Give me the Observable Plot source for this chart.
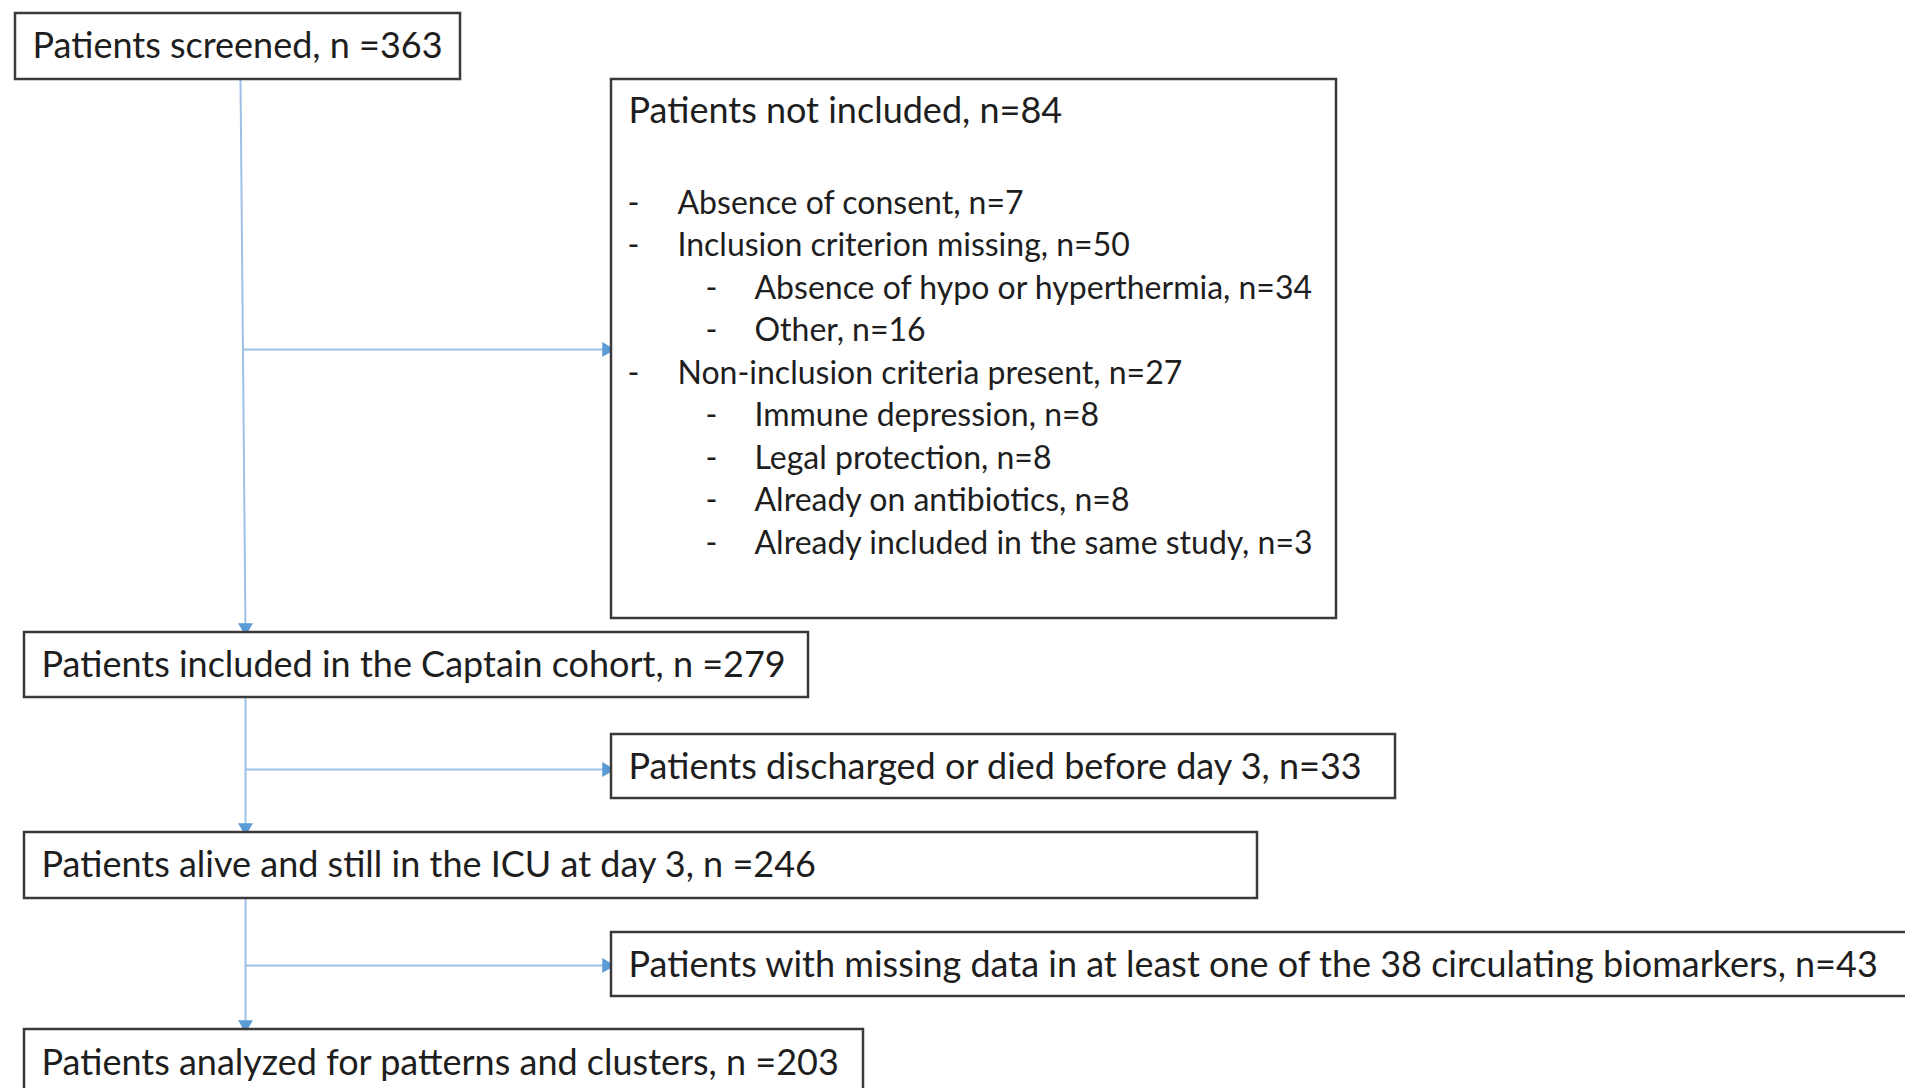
<!DOCTYPE html>
<html>
<head>
<meta charset="utf-8">
<script src="https://cdn.jsdelivr.net/npm/d3@7"></script>
<script src="https://cdn.jsdelivr.net/npm/@observablehq/plot@0.6"></script>
<style>
  html, body { margin: 0; padding: 0; background: #fff; overflow: hidden; }
  #chart svg { display: block; }
</style>
</head>
<body>
<div id="chart"></div>
<script>
// ---- data ----
const boxLabels = [
  "Patients screened, n =363",
  "Patients not included, n=84",
  "Patients included in the Captain cohort, n =279",
  "Patients discharged or died before day 3, n=33",
  "Patients alive and still in the ICU at day 3, n =246",
  "Patients with missing data in at least one of the 38 circulating biomarkers, n=43",
  "Patients analyzed for patterns and clusters, n =203"
];
const exclusionItems = [
  "Absence of consent, n=7",
  "Inclusion criterion missing, n=50",
  "Absence of hypo or hyperthermia, n=34",
  "Other, n=16",
  "Non-inclusion criteria present, n=27",
  "Immune depression, n=8",
  "Legal protection, n=8",
  "Already on antibiotics, n=8",
  "Already included in the same study, n=3"
];
const itemLevels = [1, 1, 2, 2, 1, 2, 2, 2, 2];

// ---- layout (pixel frame of the diagram) ----
const W = 1905, H = 1088;
const boxX1 = [15, 611, 24, 611, 24, 611, 24];
const boxX2 = [460, 1336, 808, 1395, 1257, 1930, 863];
const boxY1 = [13, 79, 632, 734, 832, 932, 1029];
const boxY2 = [79, 618, 697, 798, 898, 996, 1110];
const boxTextY = [46, 111, 665, 767, 865, 965, 1063];
const itemY0 = 203, itemStep = 42.5;
const bulletX = {1: 627, 2: 705};
const itemX = {1: 677, 2: 754};

const boxes = boxLabels.map((label, i) => ({
  label, x1: boxX1[i], x2: boxX2[i], y1: boxY1[i], y2: boxY2[i],
  tx: boxX1[i] + 17, ty: boxTextY[i]
}));
const items = exclusionItems.map((label, i) => ({
  label, level: itemLevels[i], y: itemY0 + i * itemStep,
  bx: bulletX[itemLevels[i]], tx: itemX[itemLevels[i]]
}));

// connectors between boxes
const connectors = [
  {x1: 240, y1: boxY2[0], x2: 245, y2: boxY1[2], dir: "down"},
  {x1: 242, y1: 349, x2: boxX1[1], y2: 349, dir: "right"},
  {x1: 245, y1: boxY2[2], x2: 245, y2: boxY1[4], dir: "down"},
  {x1: 245, y1: 769, x2: boxX1[3], y2: 769, dir: "right"},
  {x1: 245, y1: boxY2[4], x2: 245, y2: boxY1[6], dir: "down"},
  {x1: 245, y1: 965, x2: boxX1[5], y2: 965, dir: "right"}
];
const heads = connectors.map(c => c.dir === "down"
  ? {x: c.x2, y: c.y2 - 5, rotate: 180}
  : {x: c.x2 - 5, y: c.y2, rotate: 90});

const font = "Lato, 'Open Sans', sans-serif";
const textColor = "#1e1e1e";

const chart = Plot.plot({
  width: W, height: H,
  margin: 0,
  x: {domain: [0, W], range: [0, W], axis: null},
  y: {domain: [0, H], range: [0, H], axis: null},
  style: {fontFamily: font, background: "#fff"},
  marks: [
    Plot.link(connectors, {x1: "x1", y1: "y1", x2: "x2", y2: "y2", stroke: "#9cc0e6", strokeWidth: 2}),
    Plot.dot(heads, {x: "x", y: "y", rotate: "rotate", symbol: "triangle", r: 5.5, fill: "#5b9bd5", stroke: "none"}),
    Plot.rect(boxes, {x1: "x1", x2: "x2", y1: "y1", y2: "y2", fill: "#fff", stroke: "#3a3a3a", strokeWidth: 2.5}),
    Plot.text(boxes, {x: "tx", y: "ty", text: "label", textAnchor: "start", fontSize: 36, fill: textColor}),
    Plot.text(items, {x: "bx", y: "y", text: () => "-", textAnchor: "start", fontSize: 32, fill: textColor}),
    Plot.text(items, {x: "tx", y: "y", text: "label", textAnchor: "start", fontSize: 32, fill: textColor})
  ]
});
document.getElementById("chart").appendChild(chart);
</script>
</body>
</html>
